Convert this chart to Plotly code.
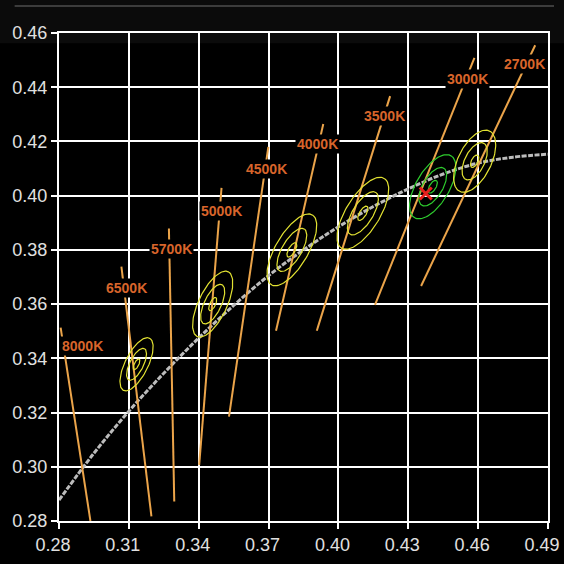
import numpy as np
import plotly.graph_objects as go

# Planckian locus (CIE 1931 x, y)
locus_x = [0.28, 0.295, 0.31, 0.325, 0.34, 0.355, 0.37, 0.385, 0.40, 0.415, 0.43, 0.445, 0.46, 0.475, 0.49]
locus_y = [0.2877, 0.305, 0.3205, 0.3345, 0.3475, 0.3595, 0.3705, 0.380, 0.3885, 0.396, 0.4025, 0.408, 0.412, 0.4142, 0.4153]

# isotemperature lines: top end and bottom end
cct_labels = ["8000K", "6500K", "5700K", "5000K", "4500K", "4000K", "3500K", "3000K", "2700K"]
iso_top_x = [0.2807, 0.3068, 0.3272, 0.3498, 0.3699, 0.3935, 0.4222, 0.4584, 0.4845]
iso_top_y = [0.3513, 0.3738, 0.3879, 0.4029, 0.4180, 0.4264, 0.4367, 0.4508, 0.4555]
iso_bot_x = [0.2935, 0.3197, 0.3295, 0.3402, 0.3530, 0.3732, 0.3907, 0.4157, 0.4355]
iso_bot_y = [0.2800, 0.2817, 0.2872, 0.3007, 0.3185, 0.3502, 0.3502, 0.3597, 0.3667]
label_x = [0.2900, 0.3090, 0.3284, 0.3497, 0.3692, 0.3910, 0.4199, 0.4555, 0.4797]
label_y = [0.3447, 0.3660, 0.3803, 0.3944, 0.4100, 0.4189, 0.4293, 0.4432, 0.4487]

# MacAdam-type ellipses (1-step semi axes, angle in degrees)
ell_names = ["6500K", "5000K", "4000K", "3500K", "3000K", "2700K"]
ell_x = [0.3133, 0.3460, 0.3800, 0.4105, 0.4405, 0.4585]
ell_y = [0.3378, 0.3600, 0.3800, 0.3935, 0.4033, 0.4127]
ell_a = [0.00223, 0.00274, 0.00313, 0.00317, 0.00278, 0.00258]
ell_b = [0.00095, 0.00118, 0.00134, 0.00139, 0.00136, 0.00137]
ell_theta = [58.23, 59.37, 54.00, 52.58, 53.13, 57.28]
ell_color = ["#e2e232", "#e2e232", "#e2e232", "#e2e232", "#2ecc2e", "#e2e232"]
steps = [1, 3, 5]

# measured point
meas_x = [0.4375]
meas_y = [0.4008]

fig = go.Figure()

fig.add_trace(go.Scatter(
    x=locus_x, y=locus_y, mode="lines",
    line=dict(color="#bcbcbc", width=3, dash="5px,1.5px", shape="spline"),
    hoverinfo="skip", showlegend=False
))

for i, lab in enumerate(cct_labels):
    fig.add_trace(go.Scatter(
        x=[iso_top_x[i], iso_bot_x[i]], y=[iso_top_y[i], iso_bot_y[i]],
        mode="lines", line=dict(color="#eba44a", width=2),
        name=lab, showlegend=False
    ))

t = np.linspace(0, 2 * np.pi, 120)
for i, name in enumerate(ell_names):
    th = np.radians(ell_theta[i])
    for s in steps:
        a = ell_a[i] * s
        b = ell_b[i] * s
        ex = ell_x[i] + a * np.cos(t) * np.cos(th) - b * np.sin(t) * np.sin(th)
        ey = ell_y[i] + a * np.cos(t) * np.sin(th) + b * np.sin(t) * np.cos(th)
        fig.add_trace(go.Scatter(
            x=ex, y=ey, mode="lines",
            line=dict(color=ell_color[i], width=1.2),
            name=name, showlegend=False, hoverinfo="skip"
        ))

fig.add_trace(go.Scatter(
    x=meas_x, y=meas_y, mode="markers",
    marker=dict(symbol="x-thin", size=12, line=dict(color="#e8201c", width=3)),
    showlegend=False
))

for i, lab in enumerate(cct_labels):
    fig.add_annotation(
        x=label_x[i], y=label_y[i], text=lab, showarrow=False,
        font=dict(family="Liberation Sans, Arial", size=14, color="#d8652b", weight="bold"),
        bgcolor="black", borderpad=1
    )

# dark band and thin bar at the top of the screenshot
fig.add_shape(type="rect", xref="paper", yref="paper",
              x0=-0.2, x1=1.1, y0=(521.3 - 43) / 488.6, y1=(521.3 + 0) / 488.6 + 0.02,
              fillcolor="#0b0b0b", line=dict(width=0), layer="below")
fig.add_shape(type="line", xref="paper", yref="paper",
              x0=(15 - 59.3) / 488.4, x1=(553.7 - 59.3) / 488.4,
              y0=(521.3 - 5.7) / 488.6, y1=(521.3 - 5.7) / 488.6,
              line=dict(color="#3c3c3c", width=2))

axis_style = dict(
    showgrid=True, gridcolor="white", gridwidth=2,
    showline=True, linecolor="white", linewidth=2, mirror=True,
    ticks="outside", ticklen=6, tickwidth=2, tickcolor="white",
    tickfont=dict(family="Liberation Sans, Arial", size=18, color="#e0e0e0"),
    zeroline=False, tickformat=".2f", ticklabeloverflow="allow",
    automargin=False,
)

fig.update_xaxes(range=[0.28, 0.49], tick0=0.28, dtick=0.03, ticklabelshift=-6, **axis_style)
fig.update_yaxes(range=[0.28, 0.46], tick0=0.28, dtick=0.02, **axis_style)

fig.update_layout(
    width=564, height=564, autosize=False,
    margin=dict(l=59, r=16, t=33, b=43),
    paper_bgcolor="black", plot_bgcolor="rgba(0,0,0,0)",
    showlegend=False,
)

fig.write_html(
    "out.html",
    config={"displayModeBar": False},
    post_script="document.body.style.margin='0';document.body.style.background='black';",
)
